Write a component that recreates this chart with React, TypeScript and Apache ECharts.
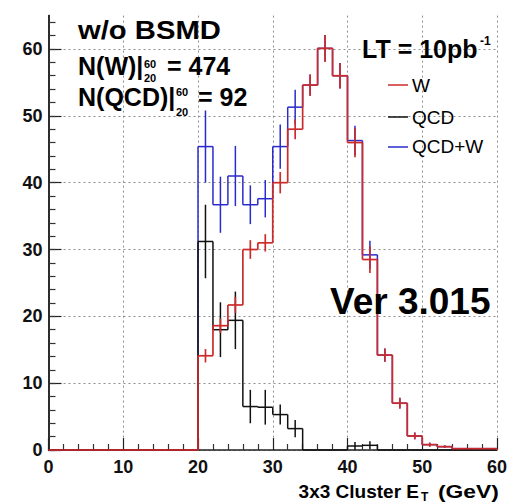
import React, { useEffect, useRef } from 'react';
import * as echarts from 'echarts';

// Histogram bins (lower edges, GeV), width 2 GeV
const binEdges = [0, 2, 4, 6, 8, 10, 12, 14, 16, 18, 20, 22, 24, 26, 28, 30, 32, 34, 36, 38, 40, 42, 44, 46, 48, 50, 52, 54, 56, 58];
const binWidth = 2;

const wValues = [0, 0, 0, 0, 0, 0, 0, 0, 0, 0, 14.1, 18.6, 21.7, 30.0, 31.0, 40.0, 48.0, 54.6, 60.1, 56.0, 46.0, 28.5, 14.2, 7.0, 2.1, 0.8, 0.5, 0.2, 0.2, 0.2];
const wErrors = [0, 0, 0, 0, 0, 0, 0, 0, 0, 0, 1.0, 1.1, 1.2, 1.4, 1.3, 1.6, 1.5, 1.6, 2.0, 1.9, 2.2, 2.0, 1.0, 0.8, 0.5, 0.3, 0.2, 0.1, 0.1, 0.1];

const qcdValues = [0, 0, 0, 0, 0, 0, 0, 0, 0, 0, 31.2, 18.0, 19.4, 6.5, 6.4, 5.3, 3.2, 0, 0, 0, 0.6, 0.7, 0, 0, 0, 0, 0, 0, 0, 0];
const qcdErrors = [0, 0, 0, 0, 0, 0, 0, 0, 0, 0, 5.5, 4.1, 4.3, 2.5, 2.6, 1.5, 1.3, 0, 0, 0, 0.6, 0.6, 0, 0, 0, 0, 0, 0, 0, 0];

const sumValues = [0, 0, 0, 0, 0, 0, 0, 0, 0, 0, 45.4, 36.7, 41.0, 36.7, 37.6, 45.4, 51.3, 54.6, 60.1, 56.0, 46.3, 29.2, 14.2, 7.0, 2.1, 0.8, 0.5, 0.2, 0.2, 0.2];
const sumErrors = [0, 0, 0, 0, 0, 0, 0, 0, 0, 0, 5.4, 4.2, 4.5, 2.9, 2.8, 3.3, 2.6, 1.6, 2.0, 1.9, 2.2, 2.1, 1.0, 0.8, 0.5, 0.3, 0.2, 0.1, 0.1, 0.1];

const xTicks = [0, 10, 20, 30, 40, 50, 60];
const yMajorTicks = [0, 10, 20, 30, 40, 50, 60];
const yMinorTicks = [0, 2, 4, 6, 8, 10, 12, 14, 16, 18, 20, 22, 24, 26, 28, 30, 32, 34, 36, 38, 40, 42, 44, 46, 48, 50, 52, 54, 56, 58, 60, 62, 64];

const RED = '#cc2b2b';
const BLACK = '#111111';
const BLUE = '#2b2bcc';
const FONT = '"Liberation Sans", Arial, Helvetica, sans-serif';

function makeHist(name: string, values: number[], errors: number[], color: string, z: number, width: number) {
  const n = values.length;
  const data = values.map((v, i) => [binEdges[i], binEdges[i] + binWidth, v, errors[i], i === 0 ? 0 : values[i - 1], i === n - 1 ? 1 : 0]);
  return {
    type: 'custom',
    name,
    z,
    silent: true,
    clip: false,
    xAxisIndex: 0,
    yAxisIndex: 0,
    data,
    encode: { x: [0, 1], y: 2 },
    renderItem: (params: any, api: any) => {
      const lo = api.value(0);
      const hi = api.value(1);
      const v = api.value(2);
      const e = api.value(3);
      const prev = api.value(4);
      const last = api.value(5);
      const a = api.coord([lo, v]);
      const b = api.coord([hi, v]);
      const p = api.coord([lo, prev]);
      const mid = (lo + hi) / 2;
      const t = api.coord([mid, v + e]);
      const bt = api.coord([mid, Math.max(0, v - e)]);
      const style = { stroke: color, lineWidth: width, fill: null };
      const children: any[] = [
        { type: 'line', shape: { x1: p[0], y1: p[1], x2: a[0], y2: a[1] }, style },
        { type: 'line', shape: { x1: a[0], y1: a[1], x2: b[0], y2: b[1] }, style },
      ];
      if (e > 0) {
        children.push({ type: 'line', shape: { x1: t[0], y1: t[1], x2: bt[0], y2: bt[1] }, style });
      }
      if (last) {
        const z0 = api.coord([hi, 0]);
        children.push({ type: 'line', shape: { x1: b[0], y1: b[1], x2: z0[0], y2: z0[1] }, style });
      }
      return { type: 'group', children };
    },
  };
}

function txt(text: string, x: number, y: number, size: number, bold: boolean, opts: any = {}) {
  const align = opts.align || 'left';
  return {
    type: 'text',
    x,
    y,
    scaleX: opts.scaleX || 1,
    z: 100,
    silent: true,
    style: {
      text,
      fill: '#000',
      font: `${bold ? 'bold ' : ''}${size}px ${FONT}`,
      align,
      textAlign: align,
      verticalAlign: 'middle',
      textVerticalAlign: 'middle',
    },
  };
}

function legLine(y: number, color: string) {
  return {
    type: 'line',
    z: 100,
    silent: true,
    shape: { x1: 388, y1: y, x2: 408, y2: y },
    style: { stroke: color, lineWidth: 1.5 },
  };
}

export default function App() {
  const ref = useRef<HTMLDivElement>(null);
  useEffect(() => {
    if (!ref.current) return;
    const chart = echarts.init(ref.current, null, { renderer: 'svg' });
    const gridLine = { show: true, lineStyle: { color: '#8f8f8f', width: 1, type: [2, 3] } };
    chart.setOption({
      animation: false,
      backgroundColor: '#ffffff',
      grid: { left: 48.5, right: 22, top: 15.6, bottom: 54, containLabel: false },
      xAxis: {
        type: 'value',
        min: 0,
        max: 60,
        interval: 10,
        axisLine: { show: true, onZero: false, lineStyle: { color: '#222', width: 1.5 } },
        axisTick: { show: true, inside: true, length: 12, lineStyle: { color: '#222', width: 1.2 } },
        minorTick: { show: true, splitNumber: 5, length: 6, lineStyle: { color: '#333', width: 1.2 } },
        axisLabel: {
          color: '#111',
          fontSize: 18,
          fontWeight: 'bold',
          fontFamily: FONT,
          margin: 8,
          customValues: xTicks,
        },
        splitLine: gridLine,
        minorSplitLine: { show: false },
      },
      yAxis: [
        {
          type: 'value',
          min: 0,
          max: 65,
          position: 'left',
          axisLine: { show: true, onZero: false, lineStyle: { color: '#222', width: 1.5 } },
          axisTick: { show: true, inside: true, length: 13, customValues: yMajorTicks, lineStyle: { color: '#222', width: 1.2 } },
          axisLabel: {
            color: '#111',
            fontSize: 18,
            fontWeight: 'bold',
            fontFamily: FONT,
            margin: 6,
            customValues: yMajorTicks,
          },
          splitLine: gridLine,
        },
        {
          type: 'value',
          min: 0,
          max: 65,
          position: 'left',
          offset: 0,
          axisLine: { show: true, onZero: false, lineStyle: { color: '#222', width: 1.5 } },
          axisTick: { show: true, inside: true, length: 7, customValues: yMinorTicks, lineStyle: { color: '#333', width: 1.2 } },
          axisLabel: { show: false },
          splitLine: { show: false },
        },
      ],
      series: [
        makeHist('QCD+W', sumValues, sumErrors, BLUE, 2, 1.5),
        makeHist('QCD', qcdValues, qcdErrors, BLACK, 3, 1.5),
        makeHist('W', wValues, wErrors, RED, 4, 1.7),
      ],
      graphic: [
        txt('w/o BSMD', 78, 30.5, 25, true, { scaleX: 1.17 }),
        txt('N(W)|', 78, 65.5, 25, true),
        txt('60', 144, 63.5, 11, true),
        txt('20', 144, 78, 11, true),
        txt('= 474', 167, 65.5, 25, true),
        txt('N(QCD)|', 78, 97, 25, true),
        txt('60', 176, 92, 11, true),
        txt('20', 176, 112, 11, true),
        txt('= 92', 198, 97, 25, true),
        txt('LT = 10pb', 362, 49, 25, true),
        txt('-1', 480, 41, 12, true),
        legLine(85, RED),
        txt('W', 412, 85.5, 19, false),
        legLine(117, BLACK),
        txt('QCD', 412, 117, 19, false),
        legLine(147, BLUE),
        txt('QCD+W', 412, 146, 19, false),
        txt('Ver 3.015', 330, 301.5, 37, true),
        txt('3x3 Cluster E', 419, 491, 19, true, { align: 'right' }),
        txt('T', 421, 497, 12, true),
        txt('(GeV)', 438, 491, 19, true, { scaleX: 1.2 }),
      ],
    });
    return () => chart.dispose();
  }, []);
  return <div ref={ref} style={{ position: 'absolute', left: 0, top: 0, width: 519, height: 504, background: '#fff' }} />;
}
